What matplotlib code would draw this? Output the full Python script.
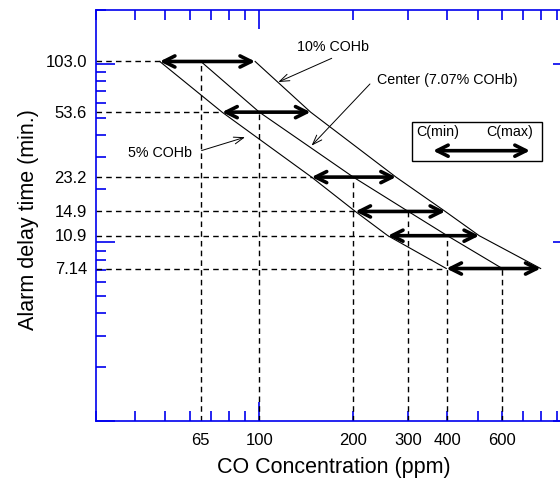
import matplotlib.pyplot as plt
import matplotlib.ticker as mticker
import numpy as np

plt.rcParams['font.family'] = ['Liberation Sans', 'DejaVu Sans']

# alarm delay (min) and CO concentration range (ppm)
delay = [103.0, 53.6, 23.2, 14.9, 10.9, 7.14]
delay_labels = ['103.0', '53.6', '23.2', '14.9', '10.9', '7.14']
c_center = [65, 100, 200, 300, 400, 600]
c_min = [48, 76, 147, 203, 258, 397]
c_max = [97, 146, 274, 394, 506, 796]
x_labels = ['65', '100', '200', '300', '400', '600']

blue = '#0000ee'

fig = plt.figure(figsize=(5.6, 4.85), dpi=100)
ax = fig.add_axes([96/560, 63/485, 475.6/560, 411/485])
ax.set_xscale('log')
ax.set_yscale('log')
ax.set_xlim(30, 1000)
ax.set_ylim(1, 200)

for s in ax.spines.values():
    s.set_color(blue)
    s.set_linewidth(1.2)

ax.xaxis.set_major_locator(mticker.LogLocator(base=10))
ax.xaxis.set_minor_locator(mticker.LogLocator(base=10, subs=np.arange(2, 10)))
ax.yaxis.set_major_locator(mticker.LogLocator(base=10))
ax.yaxis.set_minor_locator(mticker.LogLocator(base=10, subs=np.arange(2, 10)))
ax.xaxis.set_major_formatter(mticker.NullFormatter())
ax.xaxis.set_minor_formatter(mticker.NullFormatter())
ax.yaxis.set_major_formatter(mticker.NullFormatter())
ax.yaxis.set_minor_formatter(mticker.NullFormatter())
ax.tick_params(which='both', direction='in', color=blue, top=True, right=True, width=1.2)
ax.tick_params(which='major', length=14)
ax.tick_params(which='minor', length=7)

# dashed guide lines
dash = dict(color='k', lw=1, dashes=(4, 3))
for y, lo, c in zip(delay, c_min, c_center):
    ax.plot([30, lo], [y, y], **dash)
    ax.plot([c, c], [1, y], **dash)

# 5%, center, 10% curves
ax.plot(c_min, delay, color='k', lw=0.8)
ax.plot(c_center, delay, color='k', lw=0.8)
ax.plot(c_max, delay, color='k', lw=0.8)

# range arrows
big = dict(arrowstyle='<->,head_length=0.8,head_width=0.4', lw=2.6, color='k',
           shrinkA=0, shrinkB=0)
for y, lo, hi in zip(delay, c_min, c_max):
    ax.annotate('', xy=(hi, y), xytext=(lo, y), arrowprops=big)

# tick labels as text
for y, lab in zip(delay, delay_labels):
    ax.text(-0.019, y, lab, transform=ax.get_yaxis_transform(), ha='right',
            va='center', fontsize=12)
for x, lab in zip(c_center, x_labels):
    ax.text(x, -0.044, lab, transform=ax.get_xaxis_transform(), ha='center',
            va='center', fontsize=12)

ax.set_xlabel('CO Concentration (ppm)', fontsize=15.5)
ax.xaxis.set_label_coords(0.5, -0.085)
ax.set_ylabel('Alarm delay time (min.)', fontsize=15.5)
ax.yaxis.set_label_coords(-0.12, 0.493)

# annotations
thin = dict(arrowstyle='->,head_length=0.7,head_width=0.25', lw=0.7, color='k',
            shrinkA=0, shrinkB=0)
ax.text(0.498, 0.912, '10% COHb', transform=ax.transAxes, ha='center', va='center',
        fontsize=10.3)
ax.annotate('', xy=(115, 79), xycoords='data', xytext=(0.4956, 0.8825),
            textcoords='axes fraction', arrowprops=thin)
ax.text(0.590, 0.832, 'Center (7.07% COHb)', transform=ax.transAxes, ha='left',
        va='center', fontsize=10.3)
ax.annotate('', xy=(147, 34.8), xycoords='data', xytext=(0.576, 0.820),
            textcoords='axes fraction', arrowprops=thin)
ax.text(0.202, 0.6545, '5% COHb', transform=ax.transAxes, ha='right', va='center',
        fontsize=10.3)
ax.annotate('', xy=(90, 38.8), xycoords='data', xytext=(0.222, 0.658),
            textcoords='axes fraction', arrowprops=thin)

# legend box
ax.add_patch(plt.Rectangle((0.665, 0.6318), 0.273, 0.0948, transform=ax.transAxes,
                           fill=False, ec='k', lw=1))
ax.text(0.674, 0.7056, 'C(min)', transform=ax.transAxes, ha='left', va='center',
        fontsize=10.3)
ax.text(0.9188, 0.7056, 'C(max)', transform=ax.transAxes, ha='right', va='center',
        fontsize=10.3)
ax.annotate('', xy=(0.9125, 0.6577), xytext=(0.7086, 0.6577), xycoords='axes fraction',
            arrowprops=big)

fig.savefig('out.png', dpi=100)
